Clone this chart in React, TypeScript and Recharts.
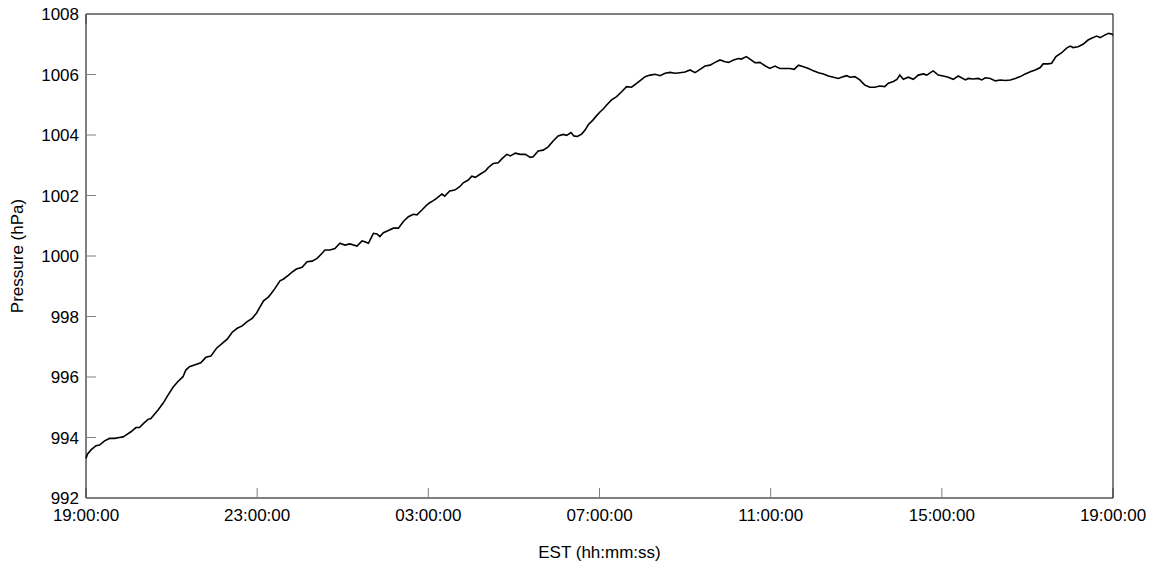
import { Line, LineChart, XAxis, YAxis } from "recharts";

// minutes after 19:00 EST
const minutes = [
  0, 2, 7, 14, 19, 26, 33, 40, 47, 52,
  56, 63, 70, 75, 80, 87, 91, 96, 101, 108,
  115, 122, 129, 136, 140, 145, 152, 161, 168, 175,
  183, 191, 198, 205, 212, 219, 226, 233, 239, 244,
  249, 256, 260, 265, 272, 277, 284, 288, 295, 303,
  310, 317, 324, 331, 335, 342, 349, 356, 363, 370,
  380, 387, 391, 396, 403, 408, 412, 417, 424, 431,
  438, 445, 452, 459, 464, 471, 478, 482, 487, 492,
  499, 503, 510, 517, 524, 529, 536, 541, 546, 553,
  560, 564, 571, 578, 583, 590, 595, 602, 609, 616,
  623, 627, 634, 641, 648, 655, 662, 669, 674, 680,
  684, 689, 695, 700, 704, 711, 716, 721, 725, 730,
  737, 744, 751, 758, 765, 772, 777, 784, 791, 798,
  805, 812, 819, 826, 833, 840, 847, 854, 861, 868,
  875, 882, 889, 896, 901, 908, 915, 919, 926, 931,
  938, 945, 952, 959, 966, 973, 980, 987, 993, 999,
  1006, 1013, 1020, 1027, 1034, 1041, 1048, 1055, 1062, 1067,
  1071, 1078, 1085, 1092, 1099, 1106, 1113, 1120, 1125, 1132,
  1137, 1141, 1146, 1153, 1160, 1167, 1174, 1179, 1184, 1188,
  1195, 1202, 1209, 1216, 1223, 1233, 1237, 1244, 1251, 1256,
  1261, 1268, 1275, 1282, 1289, 1296, 1303, 1310, 1317, 1324,
  1331, 1338, 1342, 1349, 1354, 1360, 1368, 1375, 1380, 1384,
  1391, 1398, 1405, 1410, 1417, 1422, 1429, 1434, 1438, 1440,
];

// pressure in hPa
const pressure = [
  993.31, 993.45, 993.59, 993.73, 993.75, 993.89, 993.97, 993.97, 994.0, 994.02,
  994.08, 994.19, 994.33, 994.33, 994.45, 994.6, 994.63, 994.77, 994.91, 995.13,
  995.4, 995.66, 995.85, 996.01, 996.23, 996.34, 996.4, 996.47, 996.65, 996.69,
  996.95, 997.11, 997.25, 997.48, 997.61, 997.69, 997.83, 997.94, 998.11, 998.32,
  998.52, 998.65, 998.77, 998.93, 999.18, 999.24, 999.37, 999.45, 999.57, 999.63,
  999.81, 999.83, 999.92, 1000.09, 1000.2, 1000.2, 1000.25, 1000.42, 1000.36, 1000.4,
  1000.33, 1000.5, 1000.47, 1000.42, 1000.75, 1000.73, 1000.64, 1000.77, 1000.84, 1000.92,
  1000.92, 1001.14, 1001.3, 1001.38, 1001.36, 1001.52, 1001.69, 1001.76, 1001.83, 1001.91,
  1002.05, 1001.98, 1002.15, 1002.18, 1002.29, 1002.42, 1002.51, 1002.64, 1002.6, 1002.71,
  1002.81, 1002.92, 1003.06, 1003.08, 1003.21, 1003.36, 1003.31, 1003.4, 1003.36, 1003.36,
  1003.26, 1003.28, 1003.47, 1003.5, 1003.61, 1003.8, 1003.97, 1004.02, 1003.99, 1004.08,
  1003.97, 1003.95, 1004.03, 1004.17, 1004.33, 1004.5, 1004.64, 1004.77, 1004.85, 1004.99,
  1005.16, 1005.27, 1005.43, 1005.6, 1005.58, 1005.71, 1005.8, 1005.93, 1005.98, 1006.01,
  1005.96, 1006.04, 1006.07, 1006.04, 1006.06, 1006.08, 1006.15, 1006.06, 1006.17, 1006.28,
  1006.31, 1006.4, 1006.48, 1006.42, 1006.4, 1006.48, 1006.53, 1006.51, 1006.59, 1006.51,
  1006.39, 1006.4, 1006.29, 1006.2, 1006.28, 1006.2, 1006.2, 1006.2, 1006.17, 1006.31,
  1006.26, 1006.2, 1006.12, 1006.06, 1006.02, 1005.95, 1005.91, 1005.87, 1005.93, 1005.96,
  1005.91, 1005.93, 1005.82, 1005.65, 1005.58, 1005.58, 1005.62, 1005.6, 1005.71, 1005.77,
  1005.84, 1005.98, 1005.84, 1005.91, 1005.84, 1005.98, 1006.02, 1005.98, 1006.06, 1006.12,
  1005.98, 1005.95, 1005.91, 1005.84, 1005.95, 1005.82, 1005.87, 1005.85, 1005.87, 1005.82,
  1005.89, 1005.87, 1005.79, 1005.82, 1005.8, 1005.82, 1005.87, 1005.93, 1006.02, 1006.09,
  1006.15, 1006.23, 1006.35, 1006.35, 1006.37, 1006.59, 1006.72, 1006.87, 1006.94, 1006.89,
  1006.92, 1007.0, 1007.14, 1007.2, 1007.27, 1007.22, 1007.31, 1007.36, 1007.34, 1007.3,
];

const xTicks = [0, 240, 480, 720, 960, 1200, 1440];
const xTickLabels = ["19:00:00", "23:00:00", "03:00:00", "07:00:00", "11:00:00", "15:00:00", "19:00:00"];
const yTicks = [992, 994, 996, 998, 1000, 1002, 1004, 1006, 1008];

const data = minutes.map((t, i) => ({ t, p: pressure[i] }));

const FONT = "'Liberation Sans', Arial, Helvetica, sans-serif";
const TICK_GREY = "#808080";

export default function App() {
  // negative top margin cancels the body margin so the top label has room
  return (
    <div style={{ marginTop: -8 }}>
      <LineChart
        width={1145}
        height={567}
        data={data}
        margin={{ top: 13, right: 39, bottom: 9, left: 0 }}
        style={{ fontFamily: FONT }}
      >
        <XAxis
          dataKey="t"
          type="number"
          domain={[0, 1440]}
          ticks={xTicks}
          interval={0}
          tickFormatter={(_v: number, i: number) => xTickLabels[i]}
          height={60}
          tickSize={-10}
          tickMargin={21}
          tickLine={{ stroke: TICK_GREY }}
          axisLine={{ stroke: "#000" }}
          tick={{ fill: "#000", fontSize: 17 }}
          label={{ value: "EST (hh:mm:ss)", position: "insideBottom", offset: 0, fill: "#000", fontSize: 17 }}
        />
        <XAxis
          xAxisId="top"
          orientation="top"
          type="number"
          domain={[0, 1440]}
          ticks={xTicks}
          interval={0}
          height={1}
          tickSize={-10}
          tickMargin={0}
          tickFormatter={() => ""}
          tickLine={{ stroke: TICK_GREY }}
          axisLine={{ stroke: "#000" }}
        />
        <YAxis
          type="number"
          domain={[992, 1008]}
          ticks={yTicks}
          interval={0}
          width={78}
          tickSize={-10}
          tickMargin={17}
          tickLine={{ stroke: TICK_GREY }}
          axisLine={{ stroke: "#000" }}
          tick={{ fill: "#000", fontSize: 17 }}
          label={{
            value: "Pressure (hPa)",
            angle: -90,
            position: "insideLeft",
            offset: 9,
            fill: "#000",
            fontSize: 17,
            style: { textAnchor: "middle" },
          }}
        />
        <YAxis
          yAxisId="right"
          orientation="right"
          type="number"
          domain={[992, 1008]}
          ticks={yTicks}
          interval={0}
          width={1}
          tickSize={-10}
          tickMargin={0}
          tickFormatter={() => ""}
          tickLine={{ stroke: TICK_GREY }}
          axisLine={{ stroke: "#000" }}
        />
        <Line
          dataKey="p"
          type="linear"
          stroke="#000"
          strokeWidth={1.6}
          dot={false}
          isAnimationActive={false}
        />
      </LineChart>
    </div>
  );
}
